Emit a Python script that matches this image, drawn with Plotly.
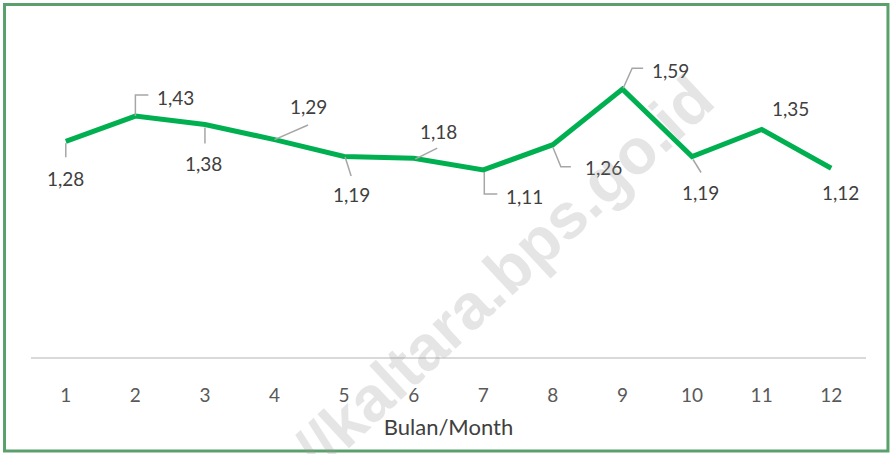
import plotly.graph_objects as go

# ---- data ----
months = list(range(1, 13))
values = [1.28, 1.43, 1.38, 1.29, 1.19, 1.18, 1.11, 1.26, 1.59, 1.19, 1.35, 1.12]
tick_labels = [str(m) for m in months]
x_title = "Bulan/Month"
watermark = "//kaltara.bps.go.id"

# ---- label placement (pixel offsets from each point: text centre dx, dy (down +)) ----
label_offsets = [(0, 37), (40, -19), (-1, 39), (34, -33), (7, 38.5), (24.5, -27),
                 (41, 27), (50.5, 23), (48, -19), (8.5, 36.5), (29, -21.5), (9.5, 24.5)]
# leader lines as pixel polylines (down +), None = no leader
leaders = [
    [(0, 2), (0, 16)],
    [(0, 0), (0, -21), (13, -21)],
    [(0, 3), (0, 19)],
    [(0, 0), (33.5, -14.6)],
    [(1, 0.5), (7, 19.5)],
    [(1.5, 1), (23.5, -10)],
    [(1, 2), (1, 24), (14, 24)],
    [(0, 2.6), (8, 22), (18, 22)],
    [(0.7, -0.8), (9.7, -20.8), (20.7, -20.8)],
    [(1, 3), (9, 16)],
    None,
    None,
]

fig = go.Figure()
fig.add_trace(go.Scatter(
    x=months, y=values, mode="lines",
    line=dict(color="#00b050", width=5),
    hoverinfo="skip", showlegend=False,
))

def fmt(v):
    return f"{v:.2f}".replace(".", ",")

annotations = []
shapes = []
for m, v, (dx, dy), ld in zip(months, values, label_offsets, leaders):
    annotations.append(dict(
        x=m, y=v, xref="x", yref="y", text=fmt(v), showarrow=False,
        xshift=dx, yshift=-dy, xanchor="center", yanchor="middle",
        font=dict(family="Lato", size=19, color="#404040"),
    ))
    if ld:
        path = "M " + " L ".join(f"{px},{-py}" for px, py in ld)
        shapes.append(dict(
            type="path", path=path, xref="x", yref="y",
            xsizemode="pixel", ysizemode="pixel", xanchor=m, yanchor=v,
            line=dict(color="#a6a6a6", width=1.5), layer="above",
        ))

# outer green frame
shapes.append(dict(type="rect", xref="paper", yref="paper",
                   x0=-0.0317, x1=1.0263, y0=-0.279, y1=1.046,
                   line=dict(color="#5aa06c", width=3), layer="below"))

# watermark
annotations.append(dict(
    x=0.566, y=0.245, xref="paper", yref="paper", text=watermark, showarrow=False,
    textangle=-43, xanchor="center", yanchor="middle",
    font=dict(family="Liberation Sans", size=64, color="rgba(150,150,150,0.25)", weight="bold"),
))

fig.update_layout(
    width=892, height=454,
    margin=dict(l=31, r=26, t=20, b=97),
    paper_bgcolor="white", plot_bgcolor="white",
    shapes=shapes, annotations=annotations,
    xaxis=dict(
        range=[0.5, 12.5], tickmode="array", tickvals=months, ticktext=tick_labels,
        showgrid=False, zeroline=False, showline=True, linecolor="#d9d9d9", linewidth=1.5,
        ticks="", ticklabelstandoff=20,
        tickfont=dict(family="Lato", size=19, color="#595959"),
        title=dict(text=x_title, standoff=15, font=dict(family="Lato", size=22, color="#404040")),
        fixedrange=True,
    ),
    yaxis=dict(range=[0, 2], visible=False, fixedrange=True),
)

fig.write_html("out.html", config={"displayModeBar": False},
               post_script="document.body.style.margin='0';document.body.style.overflow='hidden';")
